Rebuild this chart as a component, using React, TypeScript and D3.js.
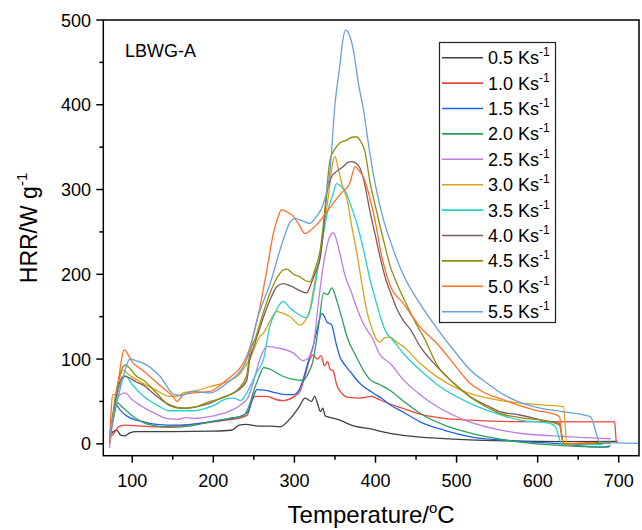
import React from 'react';
import * as d3 from 'd3';

type Pt = [number, number];

const width = 642;
const height = 530;

// heating rates shown in the legend
const rates = ['0.5', '1.0', '1.5', '2.0', '2.5', '3.0', '3.5', '4.0', '4.5', '5.0', '5.5'];
const colors = [
  '#404040', '#F0443C', '#1F63E6', '#2E9E5B', '#C07DE0', '#D9A31A',
  '#27CFCF', '#7E5A5A', '#8F8F0A', '#FF6F28', '#6A9FD8',
];

// [temperature degC, HRR W/g]
const hrr05: Pt[] = [
  [72, 9], [76, 14], [81, 16], [86, 10], [91, 9.5], [97, 13], [105, 14.5], [150, 14.5], [200, 15],
  [222, 16], [232, 22], [240, 23], [255, 21], [270, 21], [282, 20], [295, 30], [306, 44], [313, 54],
  [317, 52], [321, 50], [325, 56], [329, 46], [332, 38], [335, 42], [338, 33], [345, 31], [356, 28],
  [370, 22], [397, 17], [409, 14], [434, 10], [470, 7], [516, 4.7], [560, 3.5], [631, 2.7], [698, 3],
];
const hrr10: Pt[] = [
  [72, 8], [77, 12], [83, 20], [91, 22], [110, 21], [134, 20], [175, 23], [200, 26], [216, 28],
  [235, 31], [242, 34], [247, 50], [252, 56], [266, 56], [278, 52], [286, 51], [300, 56], [307, 62],
  [313, 80], [319, 100], [323, 105], [328, 100], [333, 104], [337, 92], [341, 97], [344, 88],
  [348, 86], [352, 70], [358, 60], [365, 55], [381, 54], [395, 56], [405, 52], [418, 47], [430, 43],
  [455, 35], [485, 30], [516, 28], [566, 26.3], [695, 26], [697, 3], [699, 2],
];
const hrr15: Pt[] = [
  [72, 10], [76, 30], [80, 46], [85, 40], [93, 33], [105, 28], [114, 26], [130, 23], [155, 22],
  [190, 25], [216, 29], [235, 33], [243, 38], [249, 55], [254, 64], [265, 63], [278, 60], [290, 58],
  [299, 58], [306, 64], [312, 80], [318, 100], [323, 115], [328, 135], [334, 154], [337, 150],
  [340, 144], [346, 140], [351, 120], [356, 103], [363, 92], [369, 85], [380, 72], [397, 60],
  [410, 52], [418, 46], [435, 37], [455, 26], [485, 16], [516, 8.6], [578, 3], [630, 0], [677, -4],
  [690, -2],
];
const hrr20: Pt[] = [
  [72, 6], [76, 25], [82, 48], [87, 44], [93, 39], [103, 31], [114, 25], [130, 21], [146, 19.5],
  [170, 21], [196, 26], [220, 30], [237, 33], [246, 50], [250, 63], [256, 78], [262, 90], [270, 88],
  [285, 80], [299, 76], [311, 75], [318, 85], [323, 98], [330, 140], [336, 178], [341, 176],
  [346, 184], [352, 170], [358, 150], [365, 126], [375, 105], [385, 87], [393, 76], [405, 70],
  [418, 63], [435, 50], [455, 36], [485, 22], [516, 13], [545, 7], [578, 2], [630, -2], [688, -4],
];
const hrr25: Pt[] = [
  [72, -5], [75, 20], [80, 50], [85, 58], [91, 60], [100, 52], [114, 43], [130, 35], [142, 30],
  [158, 29], [165, 31], [175, 30], [200, 33], [216, 37], [235, 47], [243, 55], [250, 75], [257, 99],
  [262, 110], [266, 115], [280, 113], [299, 107], [311, 98], [318, 102], [323, 113], [330, 170],
  [336, 213], [342, 240], [348, 249], [352, 240], [356, 225], [362, 200], [369, 182], [377, 160],
  [385, 142], [397, 123], [405, 106], [418, 95], [434, 76], [455, 58], [476, 44], [516, 26],
  [553, 16.5], [578, 12.5], [636, 8.6], [690, 6],
];
const hrr30: Pt[] = [
  [72, 5], [76, 30], [80, 60], [85, 80], [89, 87], [95, 82], [105, 76], [114, 71], [130, 63],
  [146, 56], [155, 56], [163, 60], [180, 63], [196, 67.5], [216, 73], [233, 83], [245, 100],
  [257, 126], [262, 131], [270, 145], [278, 156], [286, 154], [295, 150], [307, 140], [313, 145],
  [319, 158], [325, 190], [332, 225], [338, 265], [343, 300], [347, 330], [350, 339], [354, 325],
  [359, 305], [365, 288], [371, 255], [377, 225], [383, 190], [389, 158], [396, 135], [402, 122],
  [406, 120], [411, 125], [418, 126], [426, 120], [434, 115], [455, 95], [476, 79], [504, 64],
  [529, 56], [555, 51], [578, 48], [605, 46], [632, 44], [636, 0], [660, 1], [690, 1],
];
const hrr35: Pt[] = [
  [72, 8], [76, 30], [81, 55], [86, 72], [92, 80], [100, 70], [114, 56], [130, 46], [146, 39],
  [175, 39], [200, 45], [216, 53], [226, 54], [233, 51], [240, 58], [245, 67], [254, 85], [262, 100],
  [270, 140], [274, 150], [280, 162], [286, 168], [295, 160], [303, 154], [315, 149], [320, 160],
  [326, 190], [332, 225], [340, 270], [348, 296], [352, 307], [356, 305], [364, 296], [370, 280],
  [377, 260], [385, 230], [393, 195], [400, 170], [406, 150], [414, 130], [418, 126], [435, 106],
  [455, 87], [476, 70], [516, 48], [545, 37], [578, 28], [615, 24], [622, 20], [630, -1], [680, -1],
];
const hrr40: Pt[] = [
  [72, 6], [76, 30], [81, 60], [86, 76], [89, 80], [96, 78], [105, 73], [114, 69], [128, 58],
  [142, 48], [155, 43], [165, 42], [180, 44], [196, 48], [212, 55], [225, 60], [241, 74], [245, 100],
  [250, 115], [262, 150], [270, 170], [278, 185], [286, 189], [296, 186], [306, 181], [315, 178],
  [321, 190], [327, 205], [332, 220], [336, 255], [340, 295], [346, 315], [353, 322], [360, 327],
  [366, 332], [371, 333], [376, 331], [381, 325], [387, 305], [393, 275], [400, 245], [407, 215],
  [414, 190], [418, 180], [426, 160], [434, 146], [443, 135], [455, 115], [476, 91], [496, 72],
  [516, 56], [540, 44], [553, 38], [578, 34], [605, 28], [627, 24], [632, 0], [690, 2],
];
const hrr45: Pt[] = [
  [72, 8], [76, 35], [81, 65], [86, 85], [91, 93], [98, 88], [105, 80], [114, 75], [130, 60],
  [146, 45], [160, 42], [175, 43], [196, 50], [216, 56], [230, 64], [241, 80], [245, 107], [252, 125],
  [260, 150], [270, 178], [278, 195], [286, 205], [291, 206], [299, 200], [307, 197], [313, 193],
  [319, 191], [325, 205], [332, 230], [338, 280], [344, 335], [350, 348], [356, 355], [364, 358],
  [372, 362], [377, 362], [381, 358], [387, 345], [393, 310], [400, 280], [410, 240], [418, 210],
  [426, 190], [438, 165], [451, 140], [460, 125], [476, 93], [496, 72], [516, 56], [540, 42],
  [553, 36], [578, 31], [615, 26], [627, 22], [632, 0], [690, 1],
];
const hrr50: Pt[] = [
  [72, 0], [74, 40], [76, 58], [79, 58], [83, 75], [86, 95], [90, 111], [95, 105], [99, 98],
  [114, 86], [134, 69], [150, 56], [155, 50], [163, 58], [175, 60], [196, 62], [216, 75], [241, 103],
  [255, 150], [266, 205], [274, 248], [280, 268], [284, 276], [290, 274], [299, 268], [306, 258],
  [313, 248], [320, 252], [327, 258], [337, 270], [348, 284], [358, 296], [368, 307], [375, 327],
  [380, 322], [385, 315], [393, 290], [401, 256], [406, 229], [418, 187], [434, 166], [455, 138],
  [476, 118], [496, 95], [516, 72], [535, 60], [558, 52], [578, 45], [600, 39], [617, 36], [627, 32],
  [631, 0], [670, 1],
];
const hrr55: Pt[] = [
  [72, 8], [76, 30], [83, 56], [91, 87], [97, 100], [105, 98], [114, 95], [134, 80], [152, 58],
  [160, 57], [175, 62], [196, 60], [216, 71], [241, 99], [255, 150], [270, 189], [286, 240],
  [295, 262], [301, 266], [310, 263], [319, 260], [327, 268], [336, 284], [344, 323], [350, 400],
  [356, 446], [360, 478], [363, 488], [367, 484], [372, 468], [379, 425], [385, 395], [393, 343],
  [400, 305], [410, 264], [418, 240], [434, 200], [455, 165], [476, 136], [496, 111], [516, 88],
  [540, 70], [558, 58], [578, 49], [595, 44], [630, 38], [665, 32], [677, 2], [724, 0.5],
];

const series = [hrr05, hrr10, hrr15, hrr20, hrr25, hrr30, hrr35, hrr40, hrr45, hrr50, hrr55];

const xTicks = [100, 200, 300, 400, 500, 600, 700];
const xMinor = [150, 250, 350, 450, 550, 650];
const yTicks = [0, 100, 200, 300, 400, 500];
const yMinor = [50, 150, 250, 350, 450];

const font = 'Arial, "Liberation Sans", sans-serif';

export default function App() {
  const x = d3.scaleLinear().domain([64.3, 725]).range([103.3, 639]);
  const y = d3.scaleLinear().domain([-14, 500]).range([455.7, 20]);
  const [x0, x1] = x.range();
  const [y0, y1] = y.range();

  const line = d3
    .line<Pt>()
    .x((d) => x(d[0]))
    .y((d) => y(d[1]))
    .curve(d3.curveMonotoneX);

  const legendX = 439.5;
  const legendY = 42.5;
  const rowGap = 25.4;

  return (
    <svg
      width={width}
      height={height}
      style={{ position: 'absolute', left: 0, top: 0, background: '#fff' }}
      fontFamily={font}
    >
      <defs>
        <clipPath id='plot'>
          <rect x={x0} y={y1} width={x1 - x0} height={y0 - y1} />
        </clipPath>
      </defs>

      <g clipPath='url(#plot)' fill='none'>
        {series.map((s, i) => (
          <path key={i} d={line(s) || ''} stroke={colors[i]} strokeWidth={1.3} />
        ))}
      </g>

      {/* frame */}
      <rect x={x0} y={y1} width={x1 - x0} height={y0 - y1} fill='none' stroke='#000' strokeWidth={1.5} />

      {/* x axis */}
      {xTicks.map((t) => (
        <g key={t}>
          <line x1={x(t)} x2={x(t)} y1={y0} y2={y0 + 7} stroke='#000' strokeWidth={1.5} />
          <text x={x(t)} y={487} fontSize={18} textAnchor='middle'>
            {t}
          </text>
        </g>
      ))}
      {xMinor.map((t) => (
        <line key={t} x1={x(t)} x2={x(t)} y1={y0} y2={y0 + 4} stroke='#000' strokeWidth={1.5} />
      ))}

      {/* y axis */}
      {yTicks.map((t) => (
        <g key={t}>
          <line x1={x0 - 7} x2={x0} y1={y(t)} y2={y(t)} stroke='#000' strokeWidth={1.5} />
          <text x={91} y={y(t) + 6.5} fontSize={18} textAnchor='end'>
            {t}
          </text>
        </g>
      ))}
      {yMinor.map((t) => (
        <line key={t} x1={x0 - 4} x2={x0} y1={y(t)} y2={y(t)} stroke='#000' strokeWidth={1.5} />
      ))}

      <text x={(x0 + x1) / 2} y={523} fontSize={24} textAnchor='middle'>
        Temperature/
        <tspan fontSize={15} dy={-10}>o</tspan>
        <tspan dy={10}>C</tspan>
      </text>
      <text transform='translate(37,228) rotate(-90)' fontSize={23} textAnchor='middle'>
        HRR/W g
        <tspan fontSize={15} dy={-10}>-1</tspan>
      </text>

      <text x={125} y={57} fontSize={18}>
        LBWG-A
      </text>

      {/* legend */}
      <rect x={legendX} y={legendY} width={116} height={280} fill='#fff' stroke='#222' strokeWidth={1.2} />
      {rates.map((r, i) => {
        const cy = 57.7 + i * rowGap;
        return (
          <g key={r}>
            <line x1={442} x2={483} y1={cy} y2={cy} stroke={colors[i]} strokeWidth={1.6} />
            <text x={488} y={cy + 6.5} fontSize={18}>
              {r} Ks
              <tspan fontSize={12} dy={-8}>-1</tspan>
            </text>
          </g>
        );
      })}
    </svg>
  );
}
